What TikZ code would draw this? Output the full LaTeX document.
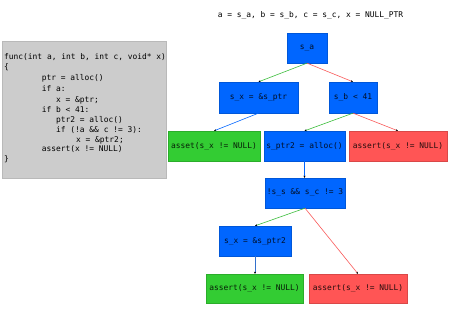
\documentclass[tikz,border=0pt]{standalone}
\usepackage{fontspec}
\setmonofont{DejaVu Sans Mono}
\usetikzlibrary{arrows.meta}
\definecolor{bxblue}{RGB}{0,102,255}
\definecolor{bxgreen}{RGB}{51,204,51}
\definecolor{bxred}{RGB}{255,85,85}
\definecolor{lngreen}{RGB}{60,190,60}
\definecolor{lnred}{RGB}{250,90,90}
\definecolor{lnblue}{RGB}{0,102,255}
\definecolor{codebg}{RGB}{204,204,204}
\definecolor{codeborder}{RGB}{185,185,185}
\begin{document}
\begin{tikzpicture}[x=1pt,y=-1pt,
  every node/.style={font=\ttfamily\fontsize{7.9}{9}\selectfont, inner sep=0pt},
  codeline/.style={anchor=mid west},
  bx/.style={draw=#1!85!black, line width=0.3pt, fill=#1, text=black!85!#1},
  edge/.style={draw=#1, line width=0.6pt, -{Stealth[length=2.2pt,width=2pt,black]}}
]
\useasboundingbox (0,0) rectangle (450,318);
\fill[white] (0,0) rectangle (450,318);
% code box
\node[draw=codeborder, fill=codebg, line width=0.6pt, minimum width=164pt, minimum height=137pt, anchor=north west] (code) at (2,41) {};
\node[codeline] (l1) at (4,57.3) {func(int a, int b, int c, void* x)};
\node[codeline] (l2) at (4,67.7) {\{};
\node[codeline] (l3) at (41.7,78.7) {ptr = alloc()};
\node[codeline] (l4) at (41.7,89) {if a:};
\node[codeline] (l5) at (56,100) {x = \&ptr;};
\node[codeline] (l6) at (41.7,110) {if b < 41:};
\node[codeline] (l7) at (56,120) {ptr2 = alloc()};
\node[codeline] (l8) at (56,130.7) {if (!a \&\& c != 3):};
\node[codeline] (l9) at (76,140) {x = \&ptr2;};
\node[codeline] (l10) at (41.7,149.3) {assert(x != NULL)};
\node[codeline] (l11) at (4,159.3) {\}};
% title
\node (title) at (310.5,15.5) {a = s\_a, b = s\_b, c = s\_c, x = NULL\_PTR};
% tree
\node[bx=bxblue, minimum width=40pt, minimum height=30pt] (sa) at (307,48) {s\_a};
\node[bx=bxblue, minimum width=79pt, minimum height=31pt] (sx1) at (258.5,97.5) {s\_x = \&s\_ptr};
\node[bx=bxblue, minimum width=48pt, minimum height=31pt] (sb) at (353,97.5) {s\_b < 41};
\node[bx=bxgreen, minimum width=92pt, minimum height=30pt] (g1) at (214,146) {asset(s\_x != NULL)};
\node[bx=bxblue, minimum width=81pt, minimum height=30pt] (sp2) at (304.5,146) {s\_ptr2 = alloc()};
\node[bx=bxred, minimum width=98pt, minimum height=30pt] (r1) at (398,146) {assert(s\_x != NULL)};
\node[bx=bxblue, minimum width=80pt, minimum height=30pt] (cond) at (305,193) {!s\_s \&\& s\_c != 3};
\node[bx=bxblue, minimum width=72pt, minimum height=30pt] (sx2) at (255,241) {s\_x = \&s\_ptr2};
\node[bx=bxgreen, minimum width=97pt, minimum height=29pt] (g2) at (254.5,288.5) {assert(s\_x != NULL)};
\node[bx=bxred, minimum width=98pt, minimum height=29pt] (r2) at (358,288.5) {assert(s\_x != NULL)};
% edges
\draw[edge=lngreen] (sa.south) -- (sx1.north);
\draw[edge=lnred] (sa.south) -- (sb.north);
\draw[edge=lnblue] (sx1.south) -- (g1.north);
\draw[edge=lngreen] (sb.south) -- (sp2.north);
\draw[edge=lnred] (sb.south) -- (r1.north);
\draw[edge=lnblue] (sp2.south) -- (cond.north -| sp2.south);
\draw[edge=lngreen] (cond.south) -- (sx2.north);
\draw[edge=lnred] (cond.south) -- (r2.north);
\draw[edge=lnblue!60!gray] (sx2.south) -- (g2.north -| sx2.south);
\end{tikzpicture}
\end{document}
